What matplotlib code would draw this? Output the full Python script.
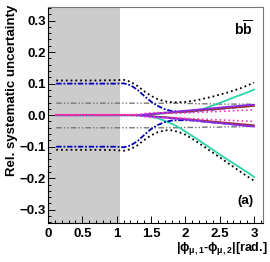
import numpy as np
import matplotlib
matplotlib.use('Agg')
import matplotlib.pyplot as plt
from matplotlib.ticker import MultipleLocator

plt.rcParams['font.family'] = ['Liberation Sans', 'DejaVu Sans']
plt.rcParams['font.weight'] = 'bold'
plt.rcParams['axes.labelweight'] = 'bold'
plt.rcParams['mathtext.fontset'] = 'custom'
plt.rcParams['mathtext.rm'] = 'Liberation Sans:bold'
plt.rcParams['mathtext.it'] = 'Liberation Sans:bold'
plt.rcParams['mathtext.bf'] = 'Liberation Sans:bold'

# |dphi| bin centres
dphi = [0.12, 0.4, 0.7, 1.0, 1.1, 1.2, 1.3, 1.4, 1.5, 1.6, 1.7, 1.8, 1.9, 2.0,
        2.1, 2.2, 2.3, 2.4, 2.5, 2.6, 2.7, 2.8, 2.9, 3.0]

# total envelope (black dotted)
tot_up = [0.110, 0.110, 0.110, 0.111, 0.112, 0.106, 0.093, 0.076, 0.061, 0.050, 0.044, 0.041,
          0.041, 0.042, 0.045, 0.049, 0.054, 0.059, 0.065, 0.071, 0.078, 0.085, 0.094, 0.103]
tot_dn = [-0.110, -0.110, -0.110, -0.111, -0.113, -0.108, -0.096, -0.079, -0.064, -0.054, -0.048, -0.048,
          -0.053, -0.062, -0.075, -0.089, -0.104, -0.119, -0.134, -0.149, -0.164, -0.179, -0.194, -0.208]

# blue dash-dot
blue_up = [0.100, 0.100, 0.100, 0.100, 0.101, 0.095, 0.081, 0.061, 0.043, 0.029, 0.019, 0.013,
           0.011, 0.011, 0.012, 0.014, 0.016, 0.018, 0.020, 0.022, 0.024, 0.027, 0.029, 0.031]
blue_dn = [-0.100, -0.100, -0.100, -0.100, -0.102, -0.096, -0.083, -0.063, -0.044, -0.031, -0.022, -0.017,
           -0.016, -0.016, -0.017, -0.019, -0.021, -0.023, -0.025, -0.027, -0.029, -0.031, -0.033, -0.036]

# teal solid
teal_up = [0, 0, 0, 0, 0, 0, 0, 0.001, 0.002, 0.004, 0.006, 0.008,
           0.009, 0.010, 0.012, 0.015, 0.023, 0.031, 0.039, 0.047, 0.056, 0.064, 0.072, 0.081]
teal_dn = [0, 0, 0, 0, 0, 0, -0.001, -0.002, -0.005, -0.010, -0.018, -0.027,
           -0.038, -0.052, -0.066, -0.080, -0.095, -0.110, -0.125, -0.139, -0.153, -0.167, -0.181, -0.196]

# grey dash-dot-dot
grey_up = [0.038, 0.038, 0.038, 0.038, 0.038, 0.038, 0.038, 0.038, 0.038, 0.038, 0.038, 0.038,
           0.038, 0.037, 0.037, 0.036, 0.036, 0.036, 0.035, 0.035, 0.035, 0.035, 0.035, 0.034]
grey_dn = [-0.040, -0.040, -0.040, -0.040, -0.040, -0.040, -0.040, -0.040, -0.040, -0.040, -0.040, -0.040,
           -0.040, -0.039, -0.039, -0.039, -0.038, -0.038, -0.038, -0.037, -0.037, -0.037, -0.036, -0.036]

# purple solid
purp_up = [0, 0, 0, 0, 0, 0, 0, 0.002, 0.004, 0.006, 0.008, 0.010,
           0.012, 0.014, 0.016, 0.018, 0.020, 0.022, 0.024, 0.026, 0.028, 0.030, 0.032, 0.033]
purp_dn = [0, 0, 0, 0, 0, 0, 0, -0.002, -0.004, -0.006, -0.008, -0.010,
           -0.012, -0.014, -0.016, -0.018, -0.021, -0.023, -0.025, -0.027, -0.030, -0.032, -0.034, -0.036]

# magenta dotted
mag_up = [0, 0, 0, 0, 0, 0, 0.002, 0.005, 0.007, 0.008, 0.007, 0.006,
          0.006, 0.007, 0.008, 0.009, 0.010, 0.011, 0.012, 0.013, 0.014, 0.015, 0.016, 0.017]
mag_dn = [0, 0, 0, 0, 0, 0, -0.002, -0.005, -0.007, -0.008, -0.008, -0.008,
          -0.009, -0.010, -0.011, -0.012, -0.013, -0.014, -0.015, -0.016, -0.017, -0.018, -0.019, -0.020]

# dark red solid
red_up = [0, 0, 0, 0, 0, 0, 0, 0.001, 0.003, 0.005, 0.006, 0.008,
          0.010, 0.011, 0.013, 0.015, 0.017, 0.018, 0.020, 0.022, 0.024, 0.025, 0.027, 0.029]
red_dn = [0, 0, 0, 0, 0, 0, 0, -0.001, -0.003, -0.005, -0.006, -0.008,
          -0.010, -0.012, -0.014, -0.016, -0.018, -0.020, -0.022, -0.024, -0.026, -0.028, -0.030, -0.032]

fig = plt.figure(figsize=(2.7, 2.62), dpi=100)
ax = fig.add_axes([48 / 270, 39 / 262, 215 / 270, 216 / 262])

ax.axvspan(0, 1.05, color='#cccccc', lw=0, zorder=0)

ax.plot(dphi, grey_up, color='#777777', lw=1.0, dashes=(4, 1.5, 1, 1.5, 1, 1.5))
ax.plot(dphi, grey_dn, color='#777777', lw=1.0, dashes=(4, 1.5, 1, 1.5, 1, 1.5))
ax.plot(dphi, tot_up, color='black', lw=1.3, ls=':')
ax.plot(dphi, tot_dn, color='black', lw=1.3, ls=':')
ax.plot(dphi, teal_up, color='#2ad4a8', lw=1.3)
ax.plot(dphi, teal_dn, color='#2ad4a8', lw=1.3)
ax.plot(dphi, blue_up, color='#0000bb', lw=1.3, dashes=(3, 1, 1, 1))
ax.plot(dphi, blue_dn, color='#0000bb', lw=1.3, dashes=(3, 1, 1, 1))
ax.plot(dphi, red_up, color='#a0302a', lw=1.2)
ax.plot(dphi, red_dn, color='#a0302a', lw=1.2)
ax.plot(dphi, purp_up, color='#8a2be2', lw=1.3)
ax.plot(dphi, purp_dn, color='#8a2be2', lw=1.3)
ax.plot(dphi, mag_up, color='#ff33cc', lw=1.2, ls=':')
ax.plot(dphi, mag_dn, color='#ff33cc', lw=1.2, ls=':')
zero = [0.0] * 7
ax.plot(dphi[:7], zero, color='#ff3399', lw=1.6)
ax.plot(dphi[:7], zero, color='#3344dd', lw=0.8, ls=':')

ax.set_xlim(0, 3.13)
ax.set_ylim(-0.342, 0.343)
ax.xaxis.set_major_locator(MultipleLocator(0.5))
ax.xaxis.set_minor_locator(MultipleLocator(0.1))
ax.yaxis.set_major_locator(MultipleLocator(0.1))
ax.yaxis.set_minor_locator(MultipleLocator(0.02))
ax.tick_params(which='both', direction='in', top=False, right=False, labelsize=9.5, width=0.7)
ax.tick_params(which='major', length=5)
ax.tick_params(which='minor', length=2.5)
ax.tick_params(axis='x', pad=3.5)
ax.tick_params(axis='y', pad=1.5)
ax.set_xticks([0, 0.5, 1, 1.5, 2, 2.5, 3])
ax.set_xticklabels(['0', '0.5', '1', '1.5', '2', '2.5', '3'])
for s in ax.spines.values():
    s.set_color('#777777')
    s.set_linewidth(0.8)
ax.spines['left'].set_color('black')
ax.spines['bottom'].set_color('black')

ax.set_ylabel('Rel. systematic uncertainty', fontsize=9.5, loc='top')
ax.yaxis.set_label_coords(-0.14, 1.01, transform=ax.transAxes)
fig.text(268 / 270, 5 / 262, r'|$\phi_{\mu,1}$-$\phi_{\mu,2}$|[rad.]', ha='right', va='bottom', fontsize=9)
ax.text(0.955, 0.9, r'$\mathbf{b}\overline{\mathbf{b}}$', transform=ax.transAxes, ha='right', va='center', fontsize=10)
ax.text(0.955, 0.1, '(a)', transform=ax.transAxes, ha='right', va='center', fontsize=9.5)

fig.savefig('out.png', dpi=100)
